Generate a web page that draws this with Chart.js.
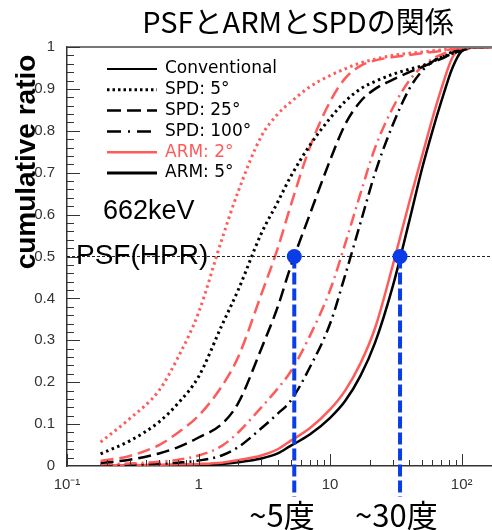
<!DOCTYPE html>
<html>
<head>
<meta charset="utf-8">
<script src="https://cdn.jsdelivr.net/npm/chart.js@4/dist/chart.umd.min.js"></script>
<style>
  html, body { margin: 0; padding: 0; background: #fff; }
</style>
</head>
<body>
<canvas id="psfChart" width="492" height="530"></canvas>
<script>
// angle samples (degrees) shared by every curve
const angles = [0.18, 0.3, 0.5, 0.7, 1, 1.5, 2, 3, 4, 5, 7, 10, 13, 17, 22, 30, 40, 50, 60, 70, 85, 100, 130, 170];

// cumulative ratio, ARM 2deg (red) and ARM 5deg (black)
const arm2Spd5   = [0.057, 0.113, 0.18, 0.26, 0.366, 0.54, 0.655, 0.787, 0.84, 0.868, 0.905, 0.932, 0.948, 0.962, 0.971, 0.98, 0.985, 0.988, 0.991, 0.993, 0.996, 0.999, 1, 1];
const arm5Spd5   = [0.029, 0.06, 0.105, 0.15, 0.213, 0.335, 0.42, 0.555, 0.63, 0.69, 0.765, 0.83, 0.87, 0.9, 0.918, 0.935, 0.947, 0.955, 0.965, 0.975, 0.985, 0.994, 1, 1];
const arm2Spd25  = [0.012, 0.024, 0.05, 0.08, 0.12, 0.19, 0.26, 0.41, 0.52, 0.62, 0.76, 0.87, 0.925, 0.955, 0.968, 0.976, 0.981, 0.985, 0.988, 0.991, 0.995, 0.998, 1, 1];
const arm5Spd25  = [0.007, 0.015, 0.03, 0.045, 0.068, 0.10, 0.15, 0.28, 0.38, 0.475, 0.6, 0.73, 0.815, 0.87, 0.9, 0.922, 0.94, 0.952, 0.963, 0.972, 0.984, 0.991, 1, 1];
const arm2Spd100 = [0.004, 0.006, 0.01, 0.015, 0.025, 0.048, 0.08, 0.14, 0.185, 0.225, 0.31, 0.42, 0.53, 0.65, 0.76, 0.855, 0.92, 0.953, 0.972, 0.982, 0.992, 0.997, 1, 1];
const arm5Spd100 = [0.002, 0.003, 0.005, 0.008, 0.013, 0.025, 0.045, 0.09, 0.125, 0.155, 0.235, 0.34, 0.455, 0.58, 0.70, 0.815, 0.9, 0.943, 0.965, 0.977, 0.988, 0.994, 1, 1];
const arm2Conv   = [0.002, 0.002, 0.003, 0.004, 0.005, 0.008, 0.014, 0.025, 0.04, 0.06, 0.09, 0.135, 0.18, 0.245, 0.33, 0.48, 0.63, 0.74, 0.83, 0.9, 0.975, 0.997, 1, 1];
const arm5Conv   = [0.001, 0.001, 0.002, 0.002, 0.003, 0.005, 0.009, 0.018, 0.03, 0.048, 0.075, 0.115, 0.155, 0.215, 0.295, 0.43, 0.585, 0.71, 0.8, 0.87, 0.95, 0.99, 1, 1];

// PSF (HPR) markers where the curves reach 0.5
const hprLevel = 0.5;
const hprAngles = [5.34, 34];
const hprLabels = ["~5度", "~30度"];

// axis ticks
const xMajorTicks = [0.1, 1, 10, 100];
const xTickLabels = ["10⁻¹", "1", "10", "10²"];
const xMinorTicks = [0.2, 0.3, 0.4, 0.5, 0.6, 0.7, 0.8, 0.9, 2, 3, 4, 5, 6, 7, 8, 9, 20, 30, 40, 50, 60, 70, 80, 90];
const yMinorStep = 0.02;

// texts
const titleText = "PSFとARMとSPDの関係";
const yTitleText = "cumulative ratio";
const energyText = "662keV";
const hprText = "PSF(HPR)";
const legendLabels = ["Conventional", "SPD: 5°", "SPD: 25°", "SPD: 100°", "ARM: 2°", "ARM: 5°"];

const RED = "#ff5b5b";
const BLUE = "#0a3ce8";
const DOT = [2.5, 3.5];
const DASH = [13, 6];
const DASHDOT = [12, 5, 2, 5];

const toPoints = (vals) => vals.map((v, i) => ({ x: angles[i], y: v }));

function curve(vals, color, dash, width) {
  return {
    type: "line",
    data: toPoints(vals),
    borderColor: color,
    borderWidth: width,
    borderDash: dash,
    pointRadius: 0,
    cubicInterpolationMode: "monotone",
    fill: false,
    order: 3,
  };
}

// extra drawing: ticks, texts, legend, blue guide lines
const decorPlugin = {
  id: "decor",
  beforeDatasetDraw(chart, args) {
    if (args.index !== 0) return;
    const { ctx, scales } = chart;
    const bottom = chart.chartArea.bottom;
    ctx.save();
    ctx.strokeStyle = BLUE;
    ctx.lineWidth = 4;
    ctx.setLineDash([12, 4]);
    hprAngles.forEach((a) => {
      const px = scales.x.getPixelForValue(a);
      const py = scales.y.getPixelForValue(hprLevel);
      ctx.beginPath();
      ctx.moveTo(px, py);
      ctx.lineTo(px, bottom + 31);
      ctx.stroke();
    });
    ctx.restore();
  },
  afterDraw(chart) {
    const { ctx, scales, chartArea } = chart;
    const xs = scales.x, ys = scales.y;
    ctx.save();

    // top frame
    ctx.strokeStyle = "#777";
    ctx.lineWidth = 2;
    ctx.beginPath();
    ctx.moveTo(chartArea.left, chartArea.top);
    ctx.lineTo(chartArea.right, chartArea.top);
    ctx.stroke();

    // ticks pointing inside
    ctx.strokeStyle = "#333";
    ctx.lineWidth = 1;
    ctx.beginPath();
    xMajorTicks.forEach((v) => {
      const p = Math.round(xs.getPixelForValue(v)) + 0.5;
      ctx.moveTo(p, chartArea.bottom);
      ctx.lineTo(p, chartArea.bottom - 12);
    });
    xMinorTicks.forEach((v) => {
      const p = Math.round(xs.getPixelForValue(v)) + 0.5;
      ctx.moveTo(p, chartArea.bottom);
      ctx.lineTo(p, chartArea.bottom - 6);
    });
    for (let i = 1; i * yMinorStep < 1.0001; i++) {
      const v = i * yMinorStep;
      const p = Math.round(ys.getPixelForValue(v)) + 0.5;
      const major = i % 5 === 0;
      ctx.moveTo(chartArea.left, p);
      ctx.lineTo(chartArea.left + (major ? 13 : 7), p);
    }
    ctx.stroke();

    // title
    ctx.fillStyle = "#000";
    ctx.textBaseline = "middle";
    ctx.textAlign = "center";
    ctx.font = "29px 'Noto Sans CJK JP'";
    ctx.fillText(titleText, 298, 22);

    // y axis title
    ctx.save();
    ctx.translate(27, 162);
    ctx.rotate(-Math.PI / 2);
    ctx.font = "bold 28px 'Liberation Sans'";
    ctx.fillText(yTitleText, 0, 0);
    ctx.restore();

    // legend
    const legendStyles = [
      { color: "#000", dash: [], width: 2 },
      { color: "#000", dash: [2.5, 3], width: 3 },
      { color: "#000", dash: [14, 6], width: 2.5 },
      { color: "#000", dash: [14, 7, 2, 7], width: 2.5 },
      { color: RED, dash: [], width: 2.5 },
      { color: "#000", dash: [], width: 3 },
    ];
    ctx.textAlign = "left";
    ctx.font = "17px 'DejaVu Sans'";
    legendLabels.forEach((label, i) => {
      const y = 69 + i * 20.8;
      const st = legendStyles[i];
      ctx.strokeStyle = st.color;
      ctx.lineWidth = st.width;
      ctx.setLineDash(st.dash);
      ctx.beginPath();
      ctx.moveTo(107, y);
      ctx.lineTo(157, y);
      ctx.stroke();
      ctx.setLineDash([]);
      ctx.fillStyle = st.color;
      ctx.fillText(label, 165, y);
    });

    // energy and HPR label
    ctx.fillStyle = "#000";
    ctx.font = "27px 'Liberation Sans'";
    ctx.fillText(energyText, 103, 212);
    ctx.font = "28px 'Liberation Sans'";
    ctx.fillText(hprText, 76, ys.getPixelForValue(hprLevel));

    // angle labels under the guide lines
    ctx.font = "31px 'Noto Sans CJK JP'";
    hprAngles.forEach((a, i) => {
      const px = xs.getPixelForValue(a);
      ctx.fillText(hprLabels[i], px - 45, chartArea.bottom + 49);
    });

    ctx.restore();
  },
};

const ctx = document.getElementById("psfChart").getContext("2d");

window.psfChart = new Chart(ctx, {
  type: "line",
  data: {
    datasets: [
      {
        type: "scatter",
        data: hprAngles.map((a) => ({ x: a, y: hprLevel })),
        pointRadius: 7.5,
        pointBackgroundColor: BLUE,
        pointBorderWidth: 0,
        showLine: false,
        clip: false,
        order: 0,
      },
      {
        type: "line",
        data: [{ x: 0.1, y: hprLevel }, { x: 170, y: hprLevel }],
        borderColor: "#222",
        borderWidth: 1,
        borderDash: [3, 2],
        pointRadius: 0,
        order: 1,
      },
      curve(arm2Spd5, RED, DOT, 3),
      curve(arm5Spd5, "#000", DOT, 3),
      curve(arm2Spd25, RED, DASH, 2.5),
      curve(arm5Spd25, "#000", DASH, 2.5),
      curve(arm2Spd100, RED, DASHDOT, 2.5),
      curve(arm5Spd100, "#000", DASHDOT, 2.5),
      curve(arm2Conv, RED, [], 2.5),
      curve(arm5Conv, "#000", [], 2.5),
    ],
  },
  options: {
    responsive: false,
    animation: false,
    layout: { autoPadding: false, padding: { top: 47, right: 0, left: 0, bottom: 0 } },
    plugins: {
      legend: { display: false },
      tooltip: { enabled: false },
      title: { display: false },
    },
    scales: {
      x: {
        type: "logarithmic",
        min: 0.1,
        max: 170,
        grid: { display: false },
        border: { display: true, color: "#333", width: 1.5 },
        afterBuildTicks: (scale) => {
          scale.ticks = xMajorTicks.map((v) => ({ value: v }));
        },
        afterFit: (scale) => {
          scale.height = 64;
        },
        ticks: {
          autoSkip: false,
          maxRotation: 0,
          padding: 2,
          color: "#333",
          font: { size: 15, family: "'Liberation Sans', sans-serif" },
          callback: (value) => xTickLabels[xMajorTicks.indexOf(value)] ?? "",
        },
      },
      y: {
        min: 0,
        max: 1,
        grid: { display: false },
        border: { display: true, color: "#333", width: 1.5 },
        afterFit: (scale) => {
          scale.width = 67;
        },
        ticks: {
          stepSize: 0.1,
          padding: 4,
          color: "#333",
          font: { size: 15, family: "'Liberation Sans', sans-serif" },
          callback: (value) => (value === 0 || value === 1 ? String(value) : value.toFixed(1)),
        },
      },
    },
  },
  plugins: [decorPlugin],
});
</script>
</body>
</html>
